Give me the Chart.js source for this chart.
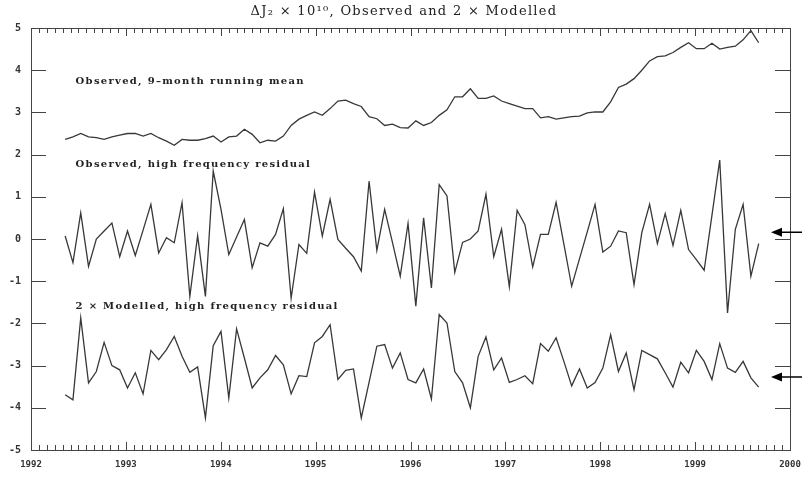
<!DOCTYPE html>
<html>
<head>
<meta charset="utf-8">
<script src="https://cdn.jsdelivr.net/npm/chart.js@4.4.0/dist/chart.umd.min.js"></script>
<style>
  html, body { margin: 0; padding: 0; background: #fff; }
  canvas { display: block; }
</style>
</head>
<body>
<canvas id="myChart" width="802" height="477"></canvas>
<script>
// Sampling: one value every 30 days, first sample mid-May 1992
const firstSample = 1992.36;
const sampleStepDays = 30;

// Observed, 9-month running mean
const observedMean = [
  2.36, 2.42, 2.50, 2.42, 2.40, 2.36, 2.42, 2.46, 2.50, 2.50,
  2.44, 2.50, 2.40, 2.32, 2.22, 2.36, 2.34, 2.34, 2.38, 2.44,
  2.30, 2.42, 2.44, 2.60, 2.48, 2.28, 2.34, 2.32, 2.44, 2.69,
  2.84, 2.93, 3.01, 2.93, 3.09, 3.27, 3.29, 3.21, 3.14, 2.90,
  2.85, 2.69, 2.72, 2.64, 2.63, 2.80, 2.69, 2.76, 2.93, 3.06,
  3.37, 3.37, 3.56, 3.33, 3.33, 3.39, 3.27, 3.21, 3.15, 3.09,
  3.09, 2.87, 2.90, 2.84, 2.87, 2.90, 2.91, 2.99, 3.01, 3.01,
  3.25, 3.59, 3.67, 3.80, 4.00, 4.22, 4.32, 4.34, 4.42, 4.54,
  4.65, 4.51, 4.51, 4.64, 4.50, 4.54, 4.57, 4.72, 4.94, 4.65
];

// Observed, high frequency residual
const observedResidual = [
  0.07, -0.56, 0.62, -0.65, 0.00, 0.19, 0.38, -0.42, 0.19, -0.39,
  0.21, 0.82, -0.33, 0.03, -0.09, 0.86, -1.36, 0.08, -1.36, 1.61,
  0.70, -0.37, 0.05, 0.46, -0.68, -0.09, -0.17, 0.11, 0.72, -1.40,
  -0.13, -0.34, 1.11, 0.07, 0.94, -0.01, -0.22, -0.42, -0.76, 1.37,
  -0.27, 0.70, -0.08, -0.88, 0.37, -1.59, 0.50, -1.16, 1.29, 1.02,
  -0.79, -0.08, 0.00, 0.19, 1.06, -0.42, 0.23, -1.13, 0.68, 0.34,
  -0.66, 0.11, 0.11, 0.87, -0.12, -1.12, -0.47, 0.17, 0.82, -0.31,
  -0.17, 0.19, 0.15, -1.08, 0.15, 0.82, -0.11, 0.60, -0.15, 0.68,
  -0.25, -0.49, -0.74, 0.56, 1.87, -1.75, 0.23, 0.82, -0.88, -0.11
];

// 2 x Modelled, high frequency residual (shifted down for display)
const modelledResidual = [
  -3.69, -3.81, -1.87, -3.41, -3.14, -2.45, -3.00, -3.10, -3.53, -3.17,
  -3.67, -2.64, -2.86, -2.62, -2.31, -2.78, -3.16, -3.03, -4.24, -2.53,
  -2.19, -3.77, -2.13, -2.82, -3.53, -3.29, -3.10, -2.76, -2.98, -3.67,
  -3.24, -3.26, -2.46, -2.31, -2.03, -3.33, -3.11, -3.08, -4.24, -3.40,
  -2.54, -2.50, -3.06, -2.70, -3.33, -3.41, -3.08, -3.79, -1.79, -1.99,
  -3.14, -3.41, -4.00, -2.78, -2.32, -3.10, -2.82, -3.40, -3.33, -3.24,
  -3.43, -2.48, -2.66, -2.34, -2.90, -3.48, -3.08, -3.53, -3.40, -3.06,
  -2.27, -3.14, -2.70, -3.57, -2.64, -2.74, -2.84, -3.17, -3.51, -2.92,
  -3.17, -2.64, -2.90, -3.33, -2.48, -3.06, -3.16, -2.90, -3.29, -3.51
];

// Panel captions and the levels marked by the arrows on the right
const panelLabels = [
  "Observed, 9\u2013month running mean",
  "Observed, high frequency residual",
  "2 \u00d7 Modelled, high frequency residual"
];
const arrowLevels = [0.16, -3.27];
const chartTitle = "\u0394J\u2082 \u00d7 10\u00b9\u2070, Observed and 2 \u00d7 Modelled";

// Axis ranges
const xMin = 1992, xMax = 2000;
const yMin = -5, yMax = 5;

// Build {x, y} points from a series
const toPoints = (values) =>
  values.map((v, i) => ({ x: firstSample + (i * sampleStepDays) / 365.25, y: v }));

const lineStyle = {
  borderColor: "#383838",
  borderWidth: 1.3,
  pointRadius: 0,
  tension: 0,
  fill: false,
};

// Frame, inward ticks, captions, title and arrows
const idlFrame = {
  id: "idlFrame",
  afterDraw(chart) {
    const ctx = chart.ctx;
    const { left, right, top, bottom } = chart.chartArea;
    const xs = chart.scales.x;
    const ys = chart.scales.y;
    ctx.save();
    ctx.strokeStyle = "#444";
    ctx.lineWidth = 1;
    ctx.strokeRect(Math.round(left) + 0.5, Math.round(top) + 0.5,
      Math.round(right - left), Math.round(bottom - top));

    // monthly ticks on bottom and top
    ctx.beginPath();
    for (let m = 0; m <= (xMax - xMin) * 12; m++) {
      const px = Math.round(xs.getPixelForValue(xMin + m / 12)) + 0.5;
      const len = m % 12 === 0 ? 8 : 5;
      ctx.moveTo(px, bottom);
      ctx.lineTo(px, bottom - len);
      ctx.moveTo(px, top);
      ctx.lineTo(px, top + len);
    }
    // unit ticks left and right
    for (let v = yMin; v <= yMax; v++) {
      const py = Math.round(ys.getPixelForValue(v)) + 0.5;
      ctx.moveTo(left, py);
      ctx.lineTo(left + 15, py);
      ctx.moveTo(right, py);
      ctx.lineTo(right - 15, py);
    }
    ctx.stroke();

    // captions
    ctx.fillStyle = "#222";
    ctx.font = "bold 10px 'DejaVu Serif'";
    ctx.letterSpacing = "1.3px";
    ctx.textBaseline = "middle";
    ctx.textAlign = "left";
    const labelX = xs.getPixelForValue(1992.47);
    const labelY = [3.74, 1.77, -1.6];
    panelLabels.forEach((txt, i) => {
      ctx.fillText(txt, labelX, ys.getPixelForValue(labelY[i]));
    });

    // title
    ctx.font = "13px 'DejaVu Serif'";
    ctx.letterSpacing = "1.3px";
    ctx.textAlign = "center";
    ctx.fillText(chartTitle, chart.width / 2 + 3, 12);
    ctx.letterSpacing = "0px";

    // arrows
    ctx.fillStyle = "#000";
    ctx.strokeStyle = "#000";
    ctx.lineWidth = 1.5;
    arrowLevels.forEach((lvl) => {
      const py = ys.getPixelForValue(lvl);
      const tip = right - 19;
      ctx.beginPath();
      ctx.moveTo(tip + 6, py);
      ctx.lineTo(chart.width, py);
      ctx.stroke();
      ctx.beginPath();
      ctx.moveTo(tip, py);
      ctx.lineTo(tip + 11, py - 4.5);
      ctx.lineTo(tip + 11, py + 4.5);
      ctx.closePath();
      ctx.fill();
    });
    ctx.restore();
  },
};

const ctx = document.getElementById("myChart").getContext("2d");
const chart = new Chart(ctx, {
  type: "line",
  data: {
    datasets: [
      { label: "Observed mean", data: toPoints(observedMean), ...lineStyle },
      { label: "Observed residual", data: toPoints(observedResidual), ...lineStyle },
      { label: "Modelled residual", data: toPoints(modelledResidual), ...lineStyle },
    ],
  },
  options: {
    responsive: false,
    animation: false,
    devicePixelRatio: 1,
    layout: { padding: { top: 28, right: 12, left: 0, bottom: 0 } },
    plugins: {
      legend: { display: false },
      tooltip: { enabled: false },
    },
    scales: {
      x: {
        type: "linear",
        min: xMin,
        max: xMax,
        grid: { display: false, drawTicks: false },
        border: { display: false },
        ticks: {
          stepSize: 1,
          autoSkip: false,
          maxRotation: 0,
          padding: 9,
          color: "#333",
          font: { family: "'DejaVu Sans Mono'", size: 9, weight: "bold" },
          callback: (v) => String(v),
        },
        afterFit: (scale) => {
          scale.height = 27;
          scale.paddingLeft = 0;
          scale.paddingRight = 0;
        },
      },
      y: {
        min: yMin,
        max: yMax,
        grid: { display: false, drawTicks: false },
        border: { display: false },
        ticks: {
          stepSize: 1,
          padding: 10,
          color: "#333",
          font: { family: "'DejaVu Sans Mono'", size: 10, weight: "bold" },
        },
        afterFit: (scale) => {
          scale.width = 31;
          scale.paddingTop = 0;
          scale.paddingBottom = 0;
        },
      },
    },
  },
  plugins: [idlFrame],
});
</script>
</body>
</html>
